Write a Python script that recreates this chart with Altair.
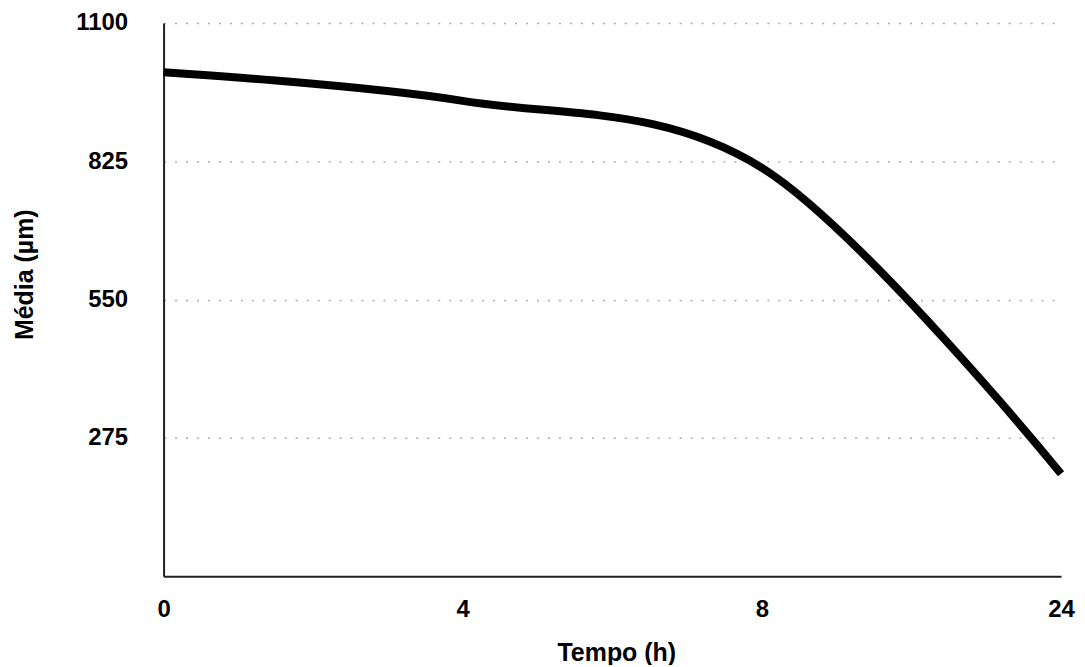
import altair as alt
import pandas as pd

tempo = ["0", "4", "8", "24"]
media = [1002, 945, 812, 204]
y_ticks = [275, 550, 825, 1100]

df = pd.DataFrame({"Tempo": tempo, "Media": media})

FONT = "Liberation Sans"

chart = (
    alt.Chart(df)
    .mark_line(color="#000000", strokeWidth=8, interpolate="cardinal", tension=0)
    .encode(
        x=alt.X(
            "Tempo:O",
            sort=tempo,
            scale=alt.Scale(type="point", padding=0),
            axis=alt.Axis(
                title="Tempo (h)",
                labelAngle=0,
                ticks=False,
                labelPadding=21,
                labelFontSize=24,
                labelFont=FONT,
                labelFontWeight="bold",
                labelColor="#000000",
                labelBaseline="top",
                domainColor="#222222",
                domainWidth=2,
                grid=False,
                titleFont=FONT,
                titleFontSize=25,
                titleFontWeight="bold",
                titleColor="#000000",
                titleX=454,
                titleY=84,
                titleBaseline="alphabetic",
                titleAlign="center",
            ),
        ),
        y=alt.Y(
            "Media:Q",
            scale=alt.Scale(domain=[0, 1100], nice=False, zero=True),
            axis=alt.Axis(
                title="Média (µm)",
                values=y_ticks,
                format="d",
                ticks=False,
                labelPadding=36,
                labelFontSize=24,
                labelFont=FONT,
                labelFontWeight="bold",
                labelColor="#000000",
                domainColor="#222222",
                domainWidth=2,
                grid=True,
                gridColor="#aaaaaa",
                gridWidth=1.5,
                gridDash=[2, 9],
                titleFont=FONT,
                titleFontSize=25,
                titleFontWeight="bold",
                titleColor="#000000",
                titleAngle=270,
                titleX=-131,
                titleY=252,
                titleBaseline="alphabetic",
                titleAlign="center",
            ),
        ),
    )
    .properties(
        width=900,
        height=555,
        autosize=alt.AutoSizeParams(type="none"),
        padding={"left": 156, "top": 14, "right": 16, "bottom": 88},
        background="white",
    )
    .configure_view(stroke=None)
)

chart.save("out.html", embed_options={"renderer": "svg", "actions": False})
